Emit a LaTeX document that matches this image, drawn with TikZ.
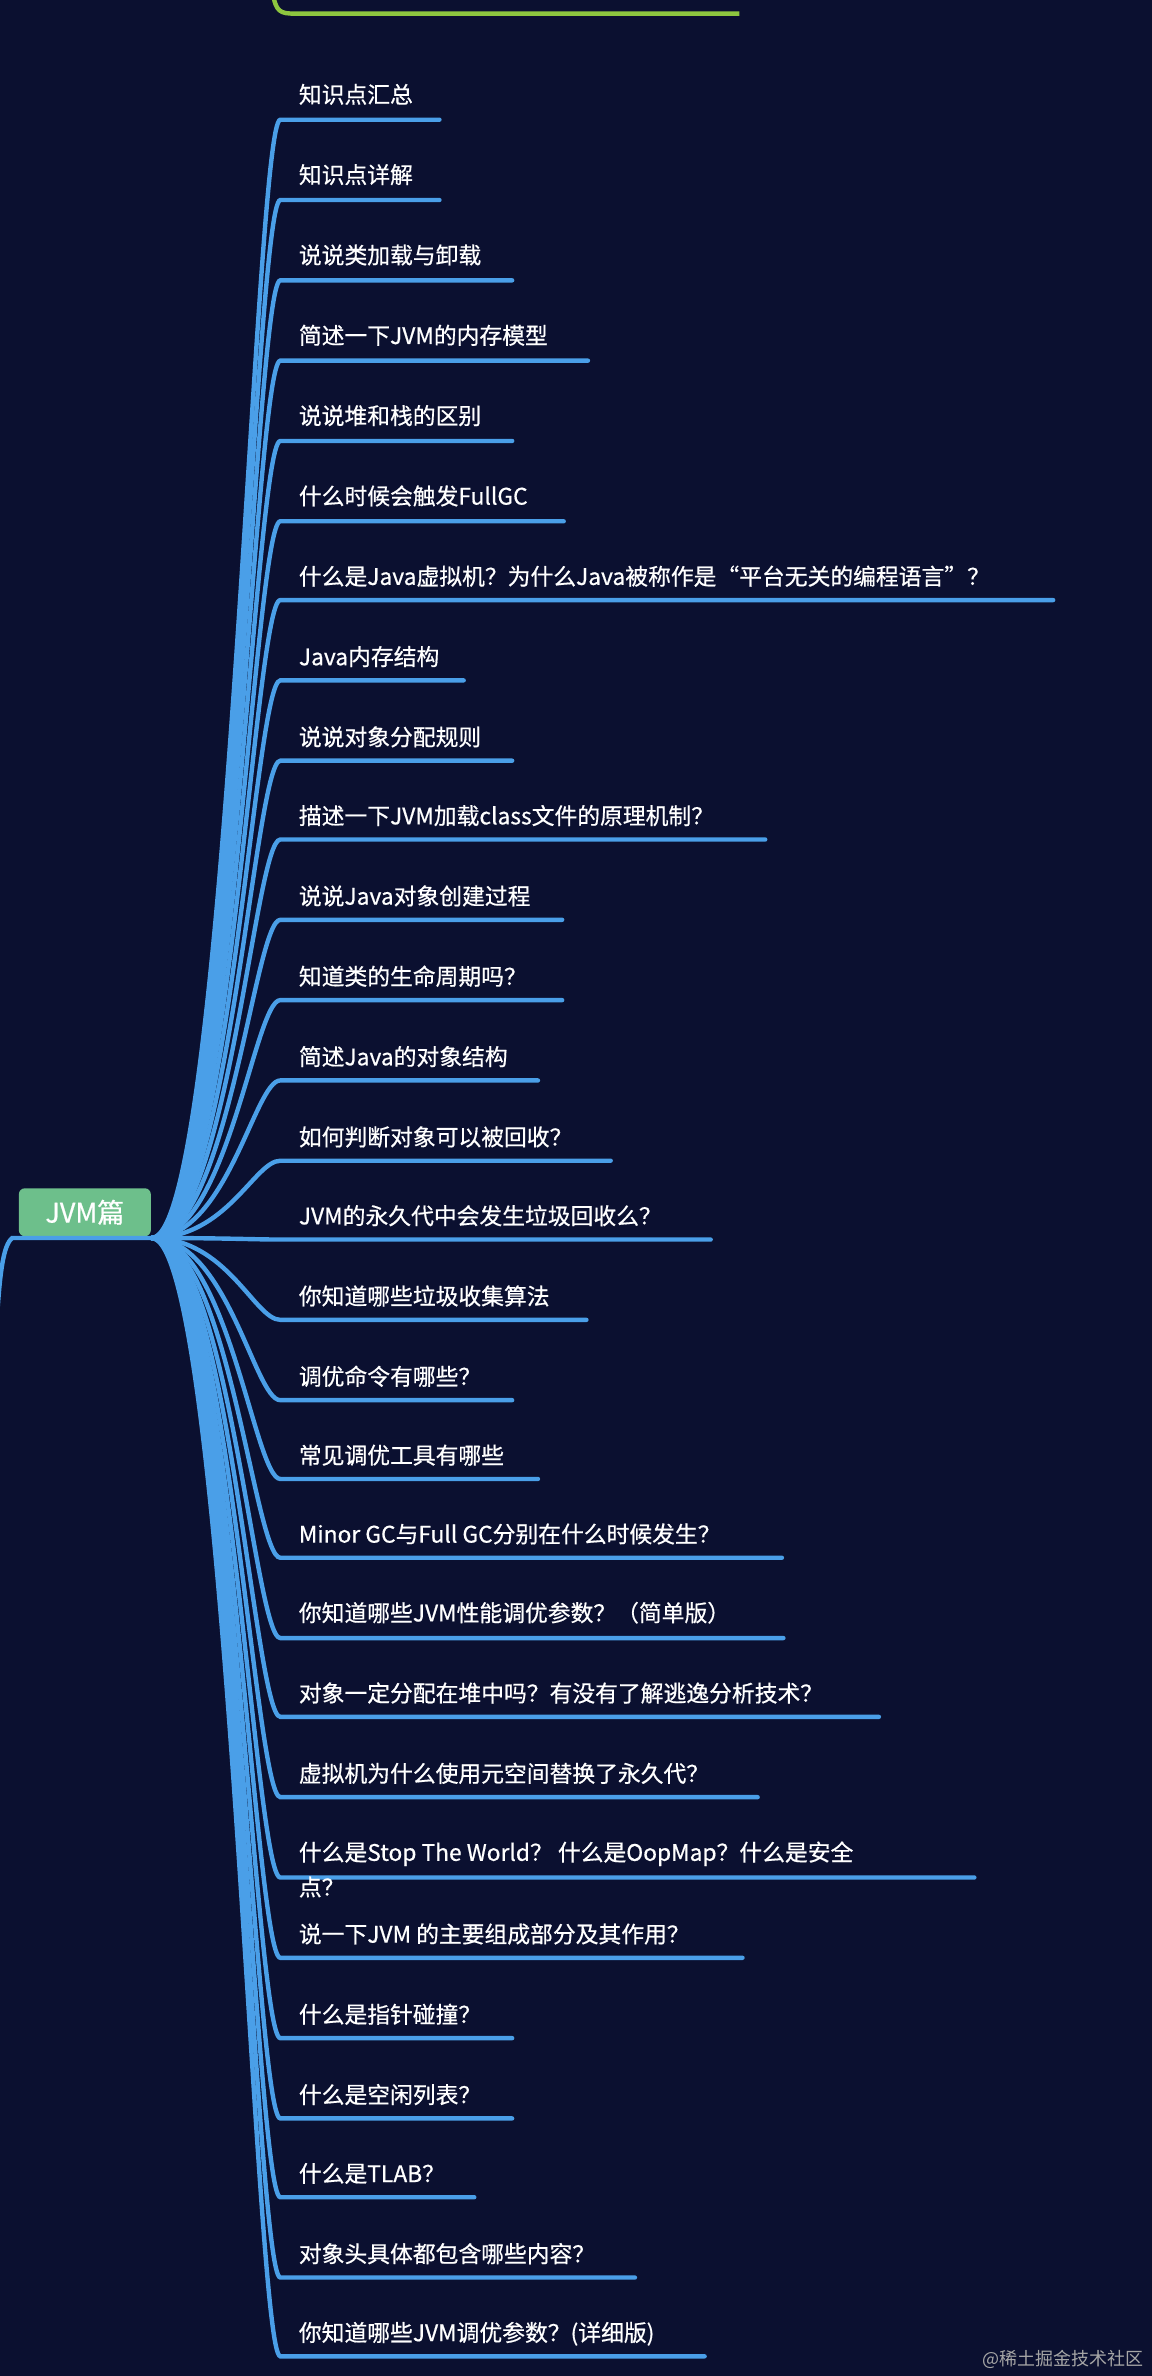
\documentclass[tikz,border=0pt]{standalone}
\usepackage{fontspec}
\setmainfont{Noto Sans CJK SC}
\newfontfamily\lblfont[FakeBold=0.6]{Noto Sans CJK SC}
\definecolor{bg}{HTML}{0B1030}
\definecolor{br}{HTML}{4A9FE8}
\definecolor{rootg}{HTML}{6DBF8B}
\definecolor{gr}{HTML}{8DC63F}
\begin{document}
\begin{tikzpicture}[x=0.758pt,y=-0.758pt,
  lbl/.style={anchor=base west,inner sep=0pt,text=white,font=\lblfont\fontsize{11.4pt}{13pt}\selectfont},
  branch/.style={draw=br,line width=2.2pt,line cap=round}]
\fill[bg] (0,0) rectangle (760,1568);
\useasboundingbox (0,0) rectangle (760,1568);
\draw[gr,line width=2.2pt] (180,-5) .. controls (182,8) and (185,9) .. (195,9) -- (488,9);
\node[fill=rootg,rounded corners=3pt,inner sep=0pt,text=white,font=\lblfont\fontsize{13.5pt}{15pt}\selectfont,minimum width=66pt,minimum height=24pt] (root) at (56,800) {JVM篇};
\coordinate (rl) at (8,817);
\coordinate (rr) at (100,817);
\draw[branch] (rr) -- (rl) .. controls (2,822) and (0,840) .. (-2,870);
\foreach \i/\ty/\ly/\ex/\t in {
 1/68/79/290/{知识点汇总},
 2/121/132/290/{知识点详解},
 3/174/185/338/{说说类加载与卸载},
 4/227/238/388/{简述一下JVM的内存模型},
 5/280/291/338/{说说堆和栈的区别},
 6/333/344/372/{什么时候会触发FullGC},
 7/386/396/695/{什么是Java虚拟机？为什么Java被称作是“平台无关的编程语言”？},
 8/439/449/306/{Java内存结构},
 9/492/502/338/{说说对象分配规则},
 10/544/554/505/{描述一下JVM加载class文件的原理机制？},
 11/597/607/371/{说说Java对象创建过程},
 12/650/660/371/{知道类的生命周期吗？},
 13/703/713/355/{简述Java的对象结构},
 14/756/766/403/{如何判断对象可以被回收？},
 15/808/818/469/{JVM的永久代中会发生垃圾回收么？},
 16/861/871/387/{你知道哪些垃圾收集算法},
 17/914/924/338/{调优命令有哪些？},
 18/966/976/355/{常见调优工具有哪些},
 19/1018/1028/516/{Minor GC与Full GC分别在什么时候发生？},
 20/1070/1081/517/{你知道哪些JVM性能调优参数？（简单版）},
 21/1123/1133/580/{对象一定分配在堆中吗？有没有了解逃逸分析技术？},
 22/1176/1186/500/{虚拟机为什么使用元空间替换了永久代？},
 23/1228/1239/643/{什么是Stop The World？ 什么是OopMap？什么是安全},
 24/1282/1292/490/{说一下JVM 的主要组成部分及其作用？},
 25/1335/1345/338/{什么是指针碰撞？},
 26/1388/1398/338/{什么是空闲列表？},
 27/1440/1450/313/{什么是TLAB？},
 28/1493/1503/419/{对象头具体都包含哪些内容？},
 29/1545/1555/465/{你知道哪些JVM调优参数？(详细版)}}{
  \node[lbl] (t\i) at (197,\ty) {\t};
  \coordinate (e\i) at (\ex,\ly);
  \coordinate (s\i) at (185,\ly);
  \draw[branch] (rr) .. controls (150,817) and (168,\ly) .. (s\i) -- (e\i);
}
\node[lbl] (t23b) at (197,1251) {点？};
\node[anchor=base east,inner sep=0pt,text=gray!70,font=\fontsize{9pt}{10pt}\selectfont] (wm) at (755,1561) {@稀土掘金技术社区};
\end{tikzpicture}
\end{document}
